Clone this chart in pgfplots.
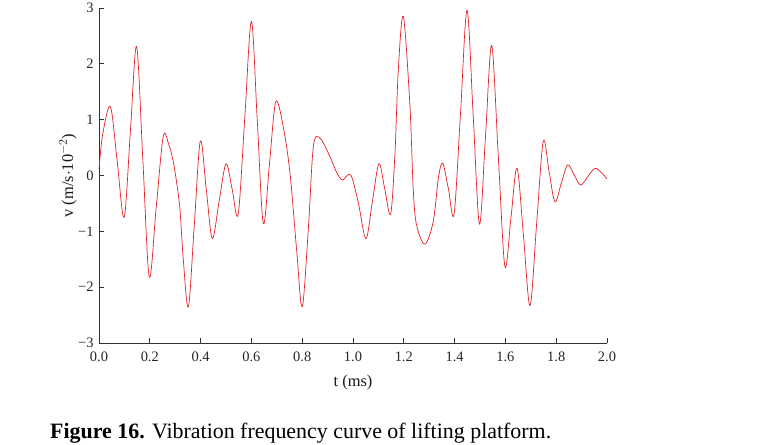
\documentclass[border=0pt]{standalone}
\usepackage{pgfplots}
\pgfplotsset{compat=1.18}
\usepackage{fontspec}
\setmainfont{Liberation Serif}
\definecolor{curvered}{rgb}{0.90,0.12,0.14}
\begin{document}
\begin{tikzpicture}
\useasboundingbox (0,0) rectangle (769bp,445bp);
\begin{axis}[
  at={(99bp,102bp)}, anchor=south west,
  scale only axis, width=508bp, height=335bp,
  xmin=0, xmax=2, ymin=-3, ymax=3,
  axis x line*=bottom, axis y line*=left,
  axis line style={black!80, line width=0.9bp},
  tick style={black!80, line width=0.9bp},
  tick align=inside, major tick length=5bp,
  xtick={0,0.2,...,2.0},
  xticklabels={0.0,0.2,0.4,0.6,0.8,1.0,1.2,1.4,1.6,1.8,2.0},
  ytick={-3,-2,-1,0,1,2,3},
  yticklabels={−3,−2,−1,0,1,2,3},
  tick label style={font=\fontsize{14.5}{16}\selectfont, black!85},
  xticklabel style={yshift=-5bp},
  yticklabel style={xshift=-2bp},
  xlabel={t (ms)},
  ylabel={v (m/s$\cdot$10$^{-2}$)},
  label style={font=\fontsize{16.5}{18}\selectfont, black!90},
  xlabel style={at={(axis description cs:0.5,0)}, anchor=center, yshift=-40bp},
  ylabel style={at={(axis description cs:-0.061,0.5)}, anchor=center},
  clip=false,
]
\addplot[curvered, line width=0.7bp, smooth, tension=0.55] coordinates {
(0.000,0.12) (0.015,0.75) (0.045,1.23)
(0.072,0.24) (0.099,-0.75)
(0.1235,0.78) (0.148,2.31)
(0.173,0.245) (0.198,-1.82)
(0.2255,-0.555) (0.253,0.70)
(0.275,0.55) (0.292,0.26) (0.306,-0.14) (0.319,-0.62) (0.332,-1.51) (0.352,-2.35)
(0.3755,-0.865) (0.399,0.62)
(0.4225,-0.255) (0.446,-1.13)
(0.473,-0.46) (0.500,0.21)
(0.524,-0.24) (0.548,-0.69)
(0.574,1.035) (0.600,2.76)
(0.6235,0.95) (0.647,-0.86)
(0.6715,0.23) (0.696,1.32)
(0.725,0.88) (0.752,0.04) (0.778,-1.33) (0.800,-2.35)
(0.824,-0.97) (0.844,0.52) (0.870,0.67) (0.909,0.34) (0.935,0.06) (0.959,-0.08) (0.991,0.01) (1.021,-0.49) (1.051,-1.13)
(1.0765,-0.46) (1.102,0.21)
(1.125,-0.24) (1.148,-0.69)
(1.165,0.37) (1.178,1.86) (1.198,2.85)
(1.224,1.26) (1.237,-0.23) (1.250,-0.88) (1.283,-1.23) (1.316,-0.82) (1.336,-0.05) (1.353,0.22)
(1.3755,-0.235) (1.398,-0.69)
(1.4235,1.135) (1.449,2.96)
(1.4735,1.045) (1.498,-0.87)
(1.522,0.73) (1.546,2.33)
(1.572,0.35) (1.598,-1.63)
(1.622,-0.75) (1.646,0.13)
(1.6715,-1.10) (1.697,-2.33)
(1.723,-0.86) (1.749,0.61)
(1.772,0.07) (1.795,-0.47)
(1.820,-0.14) (1.845,0.19)
(1.8705,0.01) (1.896,-0.17)
(1.9245,-0.02) (1.953,0.13)
(1.980,0.04) (2.000,-0.06)
};
\end{axis}
\node[anchor=base west, inner sep=0pt, font=\fontsize{22}{24}\selectfont] at (50bp,7bp) {\textbf{Figure 16.} Vibration frequency curve of lifting platform.};
\end{tikzpicture}
\end{document}
